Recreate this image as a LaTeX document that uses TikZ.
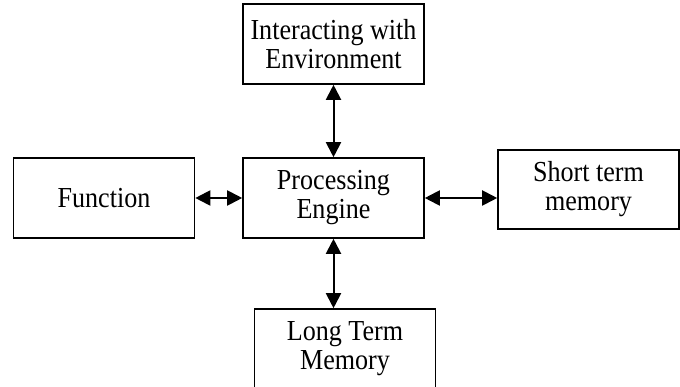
\documentclass[tikz,border=0pt]{standalone}
\usepackage{fontspec}
\setmainfont[FakeStretch=0.9]{Liberation Serif}
\usetikzlibrary{arrows.meta}
\tikzset{x=1pt, y=-1pt,
every node/.style={ % Sets the properties for each text
font=\fontsize{29}{29}\selectfont},
block/.style={ % boxes of the diagram
draw, line width=1.6pt, align=center,
minimum width=181pt, minimum height=80pt, inner sep=0pt},
biarrow/.style={ % two-headed connectors
line width=2pt,
{Triangle[width=15pt,length=15pt]}-{Triangle[width=15pt,length=15pt]}}}

\begin{document}
\begin{tikzpicture}
\useasboundingbox (0,0) rectangle (680,387);
\node[block] (env) at (333.5,44) {Interacting with\\Environment};
\node[block] (func) at (104,198) {Function};
\node[block] (engine) at (333.5,198) {Processing\\Engine};
\node[block, minimum height=79pt] (stm) at (588.5,189.5) {Short term\\memory};
\node[block] (ltm) at (345,349) {Long Term\\Memory};
\draw[biarrow] (env.south) -- (engine.north);
\draw[biarrow] (func.east) -- (engine.west);
\draw[biarrow] (engine.east) -- (engine.east -| stm.west);
\draw[biarrow] (engine.south) -- (engine.south |- ltm.north);
\end{tikzpicture}
\end{document}
